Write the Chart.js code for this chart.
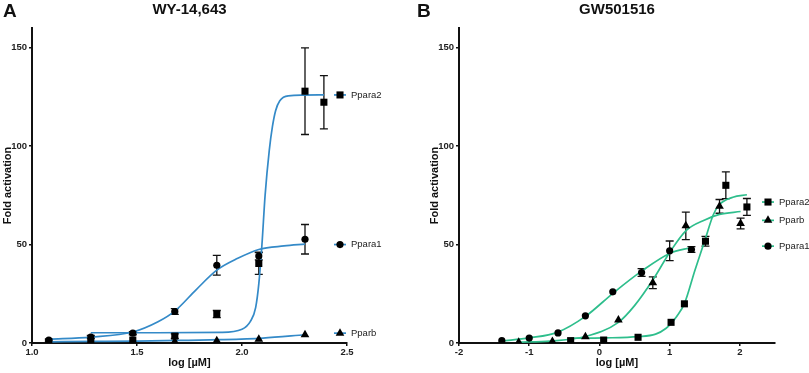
<!DOCTYPE html>
<html>
<head>
<meta charset="utf-8">
<script src="https://cdn.jsdelivr.net/npm/chart.js@4.4.0/dist/chart.umd.min.js"></script>
<style>
    body { margin: 0; background: #fff; }
    #wrap { position: relative; width: 809px; height: 373px; }
    canvas { position: absolute; top: 0; }
</style>
</head>
<body>
<div id="wrap">
    <canvas id="chartA" width="404" height="373" style="left:0"></canvas>
    <canvas id="chartB" width="405" height="373" style="left:404px"></canvas>
</div>
<script>
    // ---- panel A : WY-14,643 ----
    const xTicksA = [1.0, 1.5, 2.0, 2.5];
    const yTicks = [0, 50, 100, 150];

    const a_para1_x = [1.08, 1.28, 1.48, 1.68, 1.88, 2.08, 2.3];
    const a_para1_y = [1.5, 3.0, 5.0, 16.0, 39.5, 44.2, 52.7];
    const a_para1_err = [0.5, 0.8, 0.8, 1.5, 5, 2, 7.5];
    const a_para2_x = [1.08, 1.28, 1.48, 1.68, 1.88, 2.08, 2.3, 2.39];
    const a_para2_y = [0.5, 0.6, 1.5, 3.5, 14.7, 40.4, 127.9, 122.3];
    const a_para2_err = [0, 0, 0, 1.2, 1.8, 5.5, 22, 13.5];
    const a_parb_x = [1.08, 1.28, 1.48, 1.68, 1.88, 2.08, 2.3];
    const a_parb_y = [0.2, 0.4, 0.6, 0.7, 1.2, 1.9, 4.2];

    // fitted curves
    const a_para1_fitx = [1.08, 1.28, 1.48, 1.6, 1.68, 1.78, 1.88, 1.98, 2.08, 2.2, 2.3];
    const a_para1_fity = [1.9, 3.0, 5.6, 10.8, 16.2, 26.9, 37, 43, 47.5, 49.3, 50.2];
    const a_para2_fitx = [1.28, 1.6, 1.9, 2.0, 2.04, 2.065, 2.08, 2.095, 2.11, 2.13, 2.145, 2.16, 2.18, 2.22, 2.39];
    const a_para2_fity = [5.2, 5.2, 5.4, 7, 11, 18, 30, 50, 75, 98, 110, 118, 123, 125.5, 126];
    const a_parb_fitx = [1.08, 1.3, 1.5, 1.7, 1.9, 2.1, 2.3];
    const a_parb_fity = [0.6, 0.8, 1.0, 1.3, 1.7, 2.5, 4.2];

    // ---- panel B : GW501516 ----
    const xTicksB = [-2, -1, 0, 1, 2];

    const b_para1_x = [-1.39, -1.0, -0.59, -0.2, 0.19, 0.6, 1.0, 1.31];
    const b_para1_y = [1.2, 2.5, 5.1, 13.8, 26, 35.8, 46.8, 47.5];
    const b_para1_err = [0, 0, 0, 0, 0, 2, 5, 1.5];
    const b_parb_x = [-1.15, -0.67, -0.2, 0.27, 0.76, 1.23, 1.71, 2.01];
    const b_parb_y = [0.4, 0.8, 3.2, 11.7, 30.6, 59.5, 69.4, 60.7];
    const b_parb_err = [0, 0, 0, 0, 3, 7, 3.5, 2.7];
    const b_para2_x = [-0.41, 0.06, 0.55, 1.02, 1.21, 1.51, 1.8, 2.1];
    const b_para2_y = [1.2, 1.5, 2.9, 10.5, 19.9, 51.7, 80.1, 69.1];
    const b_para2_err = [0, 0, 0, 0, 0, 2.5, 6.8, 4.3];

    const b_para1_fitx = [-1.39, -1.0, -0.6, -0.2, 0.2, 0.6, 1.0, 1.31];
    const b_para1_fity = [1.0, 2.6, 5.4, 13.5, 25.5, 36.5, 45.5, 48.5];
    const b_parb_fitx = [-1.15, -0.7, -0.2, 0.27, 0.5, 0.76, 1.0, 1.23, 1.5, 1.71, 2.01];
    const b_parb_fity = [0.4, 1.0, 3.3, 10.5, 19, 32, 46, 57, 62.5, 65.3, 66.8];
    const b_para2_fitx = [-0.41, 0.06, 0.55, 0.8, 0.95, 1.02, 1.1, 1.21, 1.36, 1.5, 1.62, 1.7, 1.9, 2.1];
    const b_para2_fity = [2.4, 2.6, 3.2, 4.5, 7.5, 10, 13.5, 20, 37, 52, 65, 70, 74, 75.3];

    Chart.defaults.font.family = '"Liberation Sans", Arial, sans-serif';
    Chart.defaults.color = '#111';

    const blue = 'rgb(52, 138, 200)';
    const green = 'rgb(46, 190, 140)';

    function pts(xs, ys) {
        return xs.map((value, index) => ({ x: value, y: ys[index] }));
    }

    function markers(xs, ys, style, r) {
        return {
            type: 'scatter',
            data: pts(xs, ys),
            pointStyle: style,
            pointRadius: r,
            pointHoverRadius: r,
            backgroundColor: '#000',
            borderColor: '#000',
            borderWidth: 0,
            order: 0,
        };
    }

    function curve(xs, ys, color) {
        return {
            type: 'line',
            data: pts(xs, ys),
            borderColor: color,
            borderWidth: 1.7,
            pointRadius: 0,
            fill: false,
            cubicInterpolationMode: 'monotone',
            order: 1,
        };
    }

    // error bars, panel titles and the curve labels at the right
    const extras = {
        id: 'extras',
        beforeDatasetsDraw(chart, args, opts) {
            const ctx = chart.ctx, xs = chart.scales.x, ys = chart.scales.y;
            ctx.save();
            ctx.strokeStyle = '#111';
            ctx.lineWidth = 1.3;
            opts.errors.forEach(e => {
                e.x.forEach((xv, i) => {
                    if (!e.err[i]) return;
                    const px = xs.getPixelForValue(xv);
                    const top = ys.getPixelForValue(e.y[i] + e.err[i]);
                    const bot = ys.getPixelForValue(e.y[i] - e.err[i]);
                    ctx.beginPath();
                    ctx.moveTo(px, top); ctx.lineTo(px, bot);
                    ctx.moveTo(px - 4, top); ctx.lineTo(px + 4, top);
                    ctx.moveTo(px - 4, bot); ctx.lineTo(px + 4, bot);
                    ctx.stroke();
                });
            });
            ctx.restore();
        },
        afterDraw(chart, args, opts) {
            const ctx = chart.ctx, area = chart.chartArea, ys = chart.scales.y;
            ctx.save();
            ctx.fillStyle = '#111';
            ctx.textBaseline = 'middle';
            ctx.font = 'bold 19px "Liberation Sans", Arial, sans-serif';
            ctx.textAlign = 'left';
            ctx.fillText(opts.letter, opts.letterX, 12);
            ctx.font = 'bold 15px "Liberation Sans", Arial, sans-serif';
            ctx.textAlign = 'center';
            ctx.fillText(opts.title, (area.left + area.right) / 2, 10);

            ctx.font = '9.5px "Liberation Sans", Arial, sans-serif';
            ctx.textAlign = 'left';
            opts.labels.forEach(l => {
                const py = ys.getPixelForValue(l.y);
                ctx.strokeStyle = opts.color;
                ctx.lineWidth = 1.7;
                ctx.beginPath();
                ctx.moveTo(area.right - 13, py);
                ctx.lineTo(area.right - 1, py);
                ctx.stroke();
                ctx.fillStyle = '#000';
                Chart.helpers.drawPoint(ctx, { pointStyle: l.style, radius: l.r, rotation: 0, borderWidth: 0 }, area.right - 7, py);
                ctx.fillStyle = '#222';
                ctx.fillText(l.text, area.right + 4, py);
            });
            ctx.restore();
        }
    };

    function scalesFor(min, max, ticks, fmt, yWidth) {
        return {
            x: {
                type: 'linear',
                min: min,
                max: max,
                afterBuildTicks: s => { s.ticks = ticks.map(v => ({ value: v })); },
                afterFit: s => { s.height = 30; },
                ticks: {
                    callback: fmt,
                    font: { size: 9.5, weight: 'bold' },
                    color: '#222',
                    padding: 1,
                    maxRotation: 0,
                    autoSkip: false,
                },
                grid: { drawOnChartArea: false, drawTicks: true, tickLength: 3, color: '#111', lineWidth: 1.5 },
                border: { color: '#111', width: 2 },
                title: { display: true, text: 'log [µM]', font: { size: 11, weight: 'bold' }, padding: { top: 3, bottom: 3 } },
            },
            y: {
                type: 'linear',
                min: 0,
                max: 160,
                afterBuildTicks: s => { s.ticks = yTicks.map(v => ({ value: v })); },
                afterFit: s => { s.width = yWidth; },
                ticks: { font: { size: 9.5, weight: 'bold' }, color: '#222', padding: 2 },
                grid: { drawOnChartArea: false, drawTicks: true, tickLength: 3, color: '#111', lineWidth: 1.5 },
                border: { color: '#111', width: 2 },
                title: { display: true, text: 'Fold activation', font: { size: 11, weight: 'bold' }, padding: { top: 1, bottom: 1 } },
            }
        };
    }

    var chartA = new Chart(document.getElementById('chartA').getContext('2d'), {
        type: 'scatter',
        data: {
            datasets: [
                markers(a_para2_x, a_para2_y, 'rect', 5),
                markers(a_para1_x, a_para1_y, 'circle', 3.6),
                markers(a_parb_x, a_parb_y, 'triangle', 5),
                curve(a_para2_fitx, a_para2_fity, blue),
                curve(a_para1_fitx, a_para1_fity, blue),
                curve(a_parb_fitx, a_parb_fity, blue),
            ]
        },
        options: {
            responsive: false,
            animation: false,
            events: [],
            layout: { padding: { left: 0, right: 57, top: 28, bottom: 0 } },
            scales: scalesFor(1.0, 2.5, xTicksA, v => v.toFixed(1), 32),
            plugins: {
                legend: { display: false },
                tooltip: { enabled: false },
                extras: {
                    letter: 'A', letterX: 3, title: 'WY-14,643', color: blue,
                    errors: [
                        { x: a_para1_x, y: a_para1_y, err: a_para1_err },
                        { x: a_para2_x, y: a_para2_y, err: a_para2_err },
                    ],
                    labels: [
                        { text: 'Ppara2', y: 126, style: 'rect', r: 5 },
                        { text: 'Ppara1', y: 50, style: 'circle', r: 3.6 },
                        { text: 'Pparb', y: 5, style: 'triangle', r: 5 },
                    ],
                },
            }
        },
        plugins: [extras]
    });

    var chartB = new Chart(document.getElementById('chartB').getContext('2d'), {
        type: 'scatter',
        data: {
            datasets: [
                markers(b_para2_x, b_para2_y, 'rect', 5),
                markers(b_parb_x, b_parb_y, 'triangle', 5),
                markers(b_para1_x, b_para1_y, 'circle', 3.6),
                curve(b_para2_fitx, b_para2_fity, green),
                curve(b_parb_fitx, b_parb_fity, green),
                curve(b_para1_fitx, b_para1_fity, green),
            ]
        },
        options: {
            responsive: false,
            animation: false,
            events: [],
            layout: { padding: { left: 23, right: 34, top: 28, bottom: 0 } },
            scales: scalesFor(-2, 2.5, xTicksB, v => String(v), 32),
            plugins: {
                legend: { display: false },
                tooltip: { enabled: false },
                extras: {
                    letter: 'B', letterX: 13, title: 'GW501516', color: green,
                    errors: [
                        { x: b_para1_x, y: b_para1_y, err: b_para1_err },
                        { x: b_parb_x, y: b_parb_y, err: b_parb_err },
                        { x: b_para2_x, y: b_para2_y, err: b_para2_err },
                    ],
                    labels: [
                        { text: 'Ppara2', y: 71.6, style: 'rect', r: 5 },
                        { text: 'Pparb', y: 62.3, style: 'triangle', r: 5 },
                        { text: 'Ppara1', y: 49.2, style: 'circle', r: 3.6 },
                    ],
                },
            }
        },
        plugins: [extras]
    });
</script>
</body>
</html>
